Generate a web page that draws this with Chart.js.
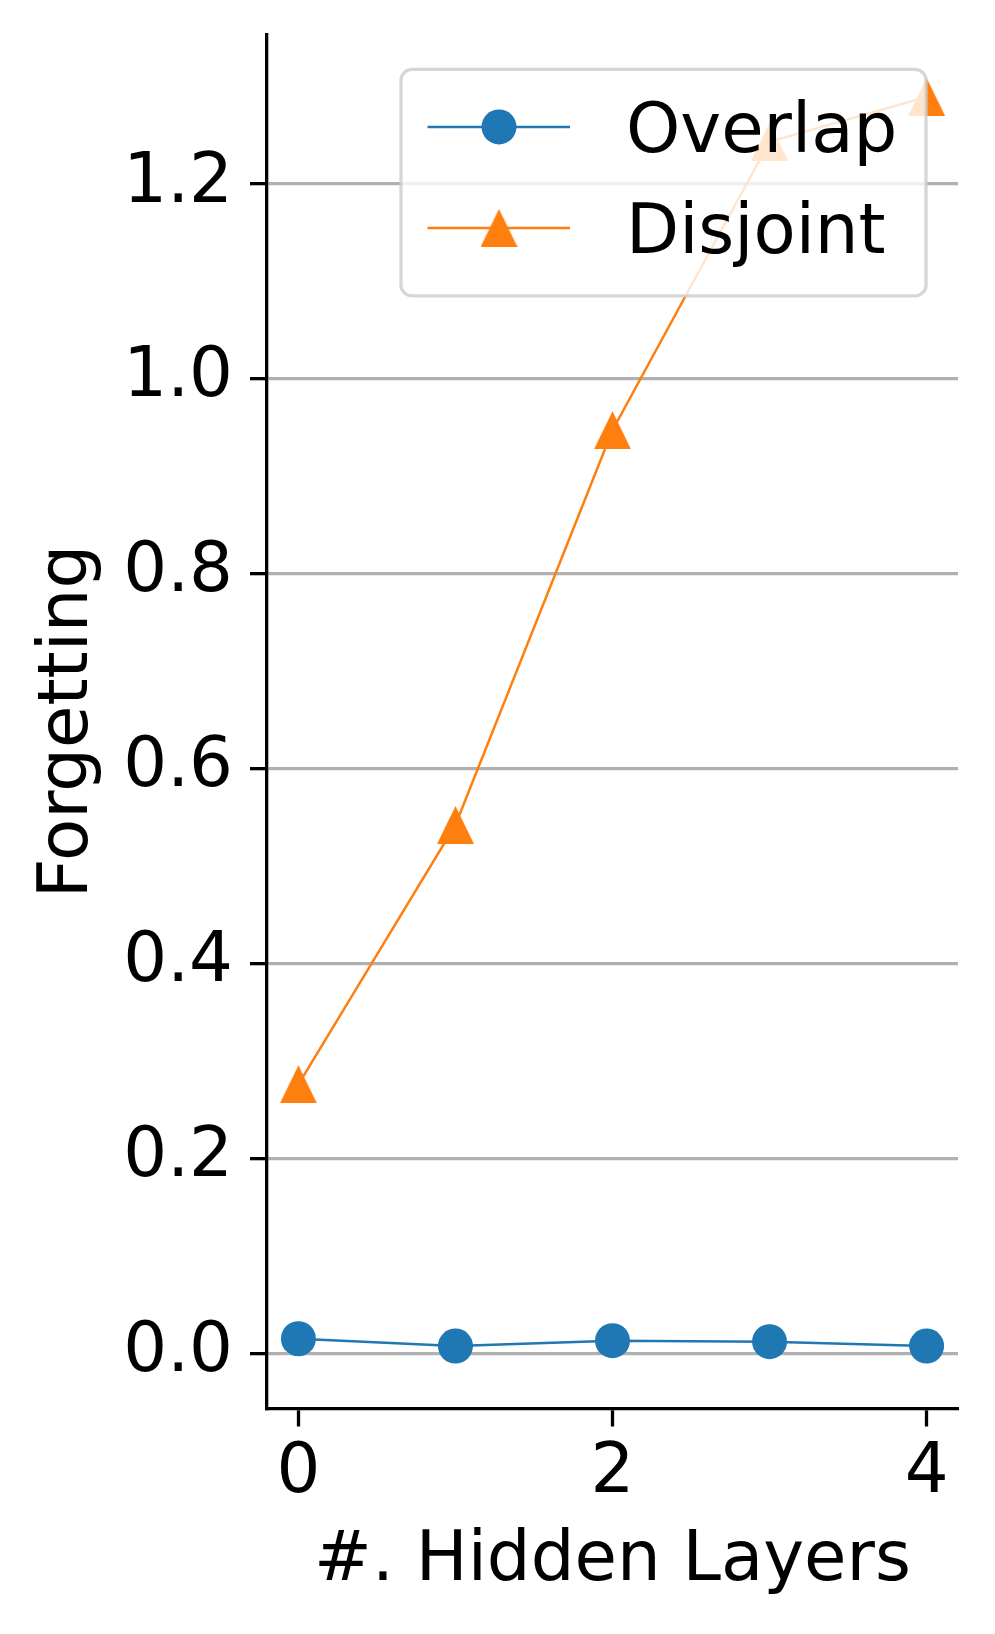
<!DOCTYPE html>
<html>
<head>
<meta charset="utf-8">
<script src="https://cdn.jsdelivr.net/npm/chart.js@4.4.0/dist/chart.umd.min.js"></script>
<style>
  body { margin: 0; background: #fff; }
  #wrap { width: 995px; height: 1634px; }
</style>
</head>
<body>
<div id="wrap"><canvas id="chart" width="995" height="1634"></canvas></div>
<script>
// values
const layers = [0, 1, 2, 3, 4];
const overlap = [0.015, 0.0075, 0.013, 0.012, 0.0075];
const disjoint = [0.276, 0.542, 0.947, 1.243, 1.289];
const xTicks = [0, 2, 4];
const yTicks = [0.0, 0.2, 0.4, 0.6, 0.8, 1.0, 1.2];
const seriesNames = ['Overlap', 'Disjoint'];
const seriesColors = ['#1f77b4', '#ff7f0e'];

// matplotlib-style 5% margins around the data
const allY = overlap.concat(disjoint);
const yLo = Math.min(...allY), yHi = Math.max(...allY);
const yMin = yLo - 0.05 * (yHi - yLo);
const yMax = yHi + 0.05 * (yHi - yLo);
const xMin = layers[0] - 0.05 * (layers[layers.length - 1] - layers[0]);
const xMax = layers[layers.length - 1] + 0.05 * (layers[layers.length - 1] - layers[0]);

const font = { family: "'DejaVu Sans'", size: 69 };
Chart.defaults.font.family = "'DejaVu Sans'";
Chart.defaults.color = '#000';

function makeTriangle(color, w, h) {
  const c = document.createElement('canvas');
  c.width = w; c.height = h;
  const g = c.getContext('2d');
  g.fillStyle = color;
  g.beginPath();
  g.moveTo(w / 2, 0);
  g.lineTo(w, h);
  g.lineTo(0, h);
  g.closePath();
  g.fill();
  return c;
}
const triangle = makeTriangle(seriesColors[1], 37, 38);

// legend drawn over the plot with a translucent frame, like matplotlib
const boxLegend = {
  id: 'boxLegend',
  afterDraw(chart) {
    const { ctx, chartArea } = chart;
    const w = 525, h = 226.5, r = 11;
    const x = chartArea.right - 32 - w;
    const y = chartArea.top + 35;
    ctx.save();
    ctx.beginPath();
    ctx.moveTo(x + r, y);
    ctx.arcTo(x + w, y, x + w, y + h, r);
    ctx.arcTo(x + w, y + h, x, y + h, r);
    ctx.arcTo(x, y + h, x, y, r);
    ctx.arcTo(x, y, x + w, y, r);
    ctx.closePath();
    ctx.fillStyle = 'rgba(255,255,255,0.8)';
    ctx.fill();
    ctx.lineWidth = 3.3;
    ctx.strokeStyle = 'rgba(204,204,204,0.8)';
    ctx.stroke();

    const rows = [57.5, 158.5];
    seriesNames.forEach((name, i) => {
      const ly = y + rows[i];
      ctx.strokeStyle = seriesColors[i];
      ctx.lineWidth = 2.5;
      ctx.beginPath();
      ctx.moveTo(x + 26.5, ly);
      ctx.lineTo(x + 169, ly);
      ctx.stroke();
      if (i === 0) {
        ctx.fillStyle = seriesColors[i];
        ctx.beginPath();
        ctx.arc(x + 98, ly, 17.5, 0, Math.PI * 2);
        ctx.fill();
      } else {
        ctx.drawImage(triangle, x + 98 - triangle.width / 2, ly - triangle.height / 2);
      }
      ctx.fillStyle = '#000';
      ctx.font = "69px 'DejaVu Sans'";
      ctx.textBaseline = 'alphabetic';
      ctx.textAlign = 'left';
      ctx.fillText(name, x + 225, ly + 25.5);
    });
    ctx.restore();
  }
};

const ctx = document.getElementById('chart').getContext('2d');
new Chart(ctx, {
  type: 'line',
  data: {
    datasets: [
      {
        label: seriesNames[0],
        data: layers.map((l, i) => ({ x: l, y: overlap[i] })),
        borderColor: seriesColors[0],
        backgroundColor: seriesColors[0],
        borderWidth: 2.5,
        pointStyle: 'circle',
        pointRadius: 17.5,
        pointBorderWidth: 0,
        pointBackgroundColor: seriesColors[0],
        tension: 0,
        clip: false
      },
      {
        label: seriesNames[1],
        data: layers.map((l, i) => ({ x: l, y: disjoint[i] })),
        borderColor: seriesColors[1],
        backgroundColor: seriesColors[1],
        borderWidth: 2.5,
        pointStyle: triangle,
        pointRadius: 19,
        pointBorderWidth: 0,
        tension: 0,
        clip: false
      }
    ]
  },
  options: {
    responsive: false,
    animation: false,
    events: [],
    layout: { padding: { top: 34.4, right: 37, left: 0, bottom: 0 } },
    plugins: {
      legend: { display: false },
      tooltip: { enabled: false }
    },
    scales: {
      x: {
        type: 'linear',
        min: xMin,
        max: xMax,
        border: { display: true, color: '#000', width: 3.3 },
        grid: { drawOnChartArea: false, drawTicks: true, tickColor: '#000', tickWidth: 3.3, tickLength: 18 },
        ticks: { font: font, color: '#000', padding: 6, maxRotation: 0, autoSkip: false,
                 callback: v => String(v) },
        title: { display: true, text: '#. Hidden Layers', font: font, color: '#000',
                 padding: { top: 0, bottom: 31 } },
        afterBuildTicks: s => { s.ticks = xTicks.map(v => ({ value: v })); },
        afterFit: s => { s.height = 1634 - 1408.5; s.paddingLeft = 0; s.paddingRight = 0; }
      },
      y: {
        type: 'linear',
        min: yMin,
        max: yMax,
        border: { display: true, color: '#000', width: 3.3 },
        grid: { color: '#b0b0b0', lineWidth: 3.3, drawTicks: true, tickColor: '#000', tickWidth: 3.3, tickLength: 17 },
        ticks: { font: font, color: '#000', padding: 17, autoSkip: false,
                 callback: v => v.toFixed(1) },
        title: { display: true, text: 'Forgetting', font: font, color: '#000',
                 padding: { top: 28, bottom: 0 } },
        afterBuildTicks: s => { s.ticks = yTicks.map(v => ({ value: v })); },
        afterFit: s => { s.width = 267; s.paddingTop = 0; s.paddingBottom = 0; }
      }
    }
  },
  plugins: [boxLegend]
});
</script>
</body>
</html>
